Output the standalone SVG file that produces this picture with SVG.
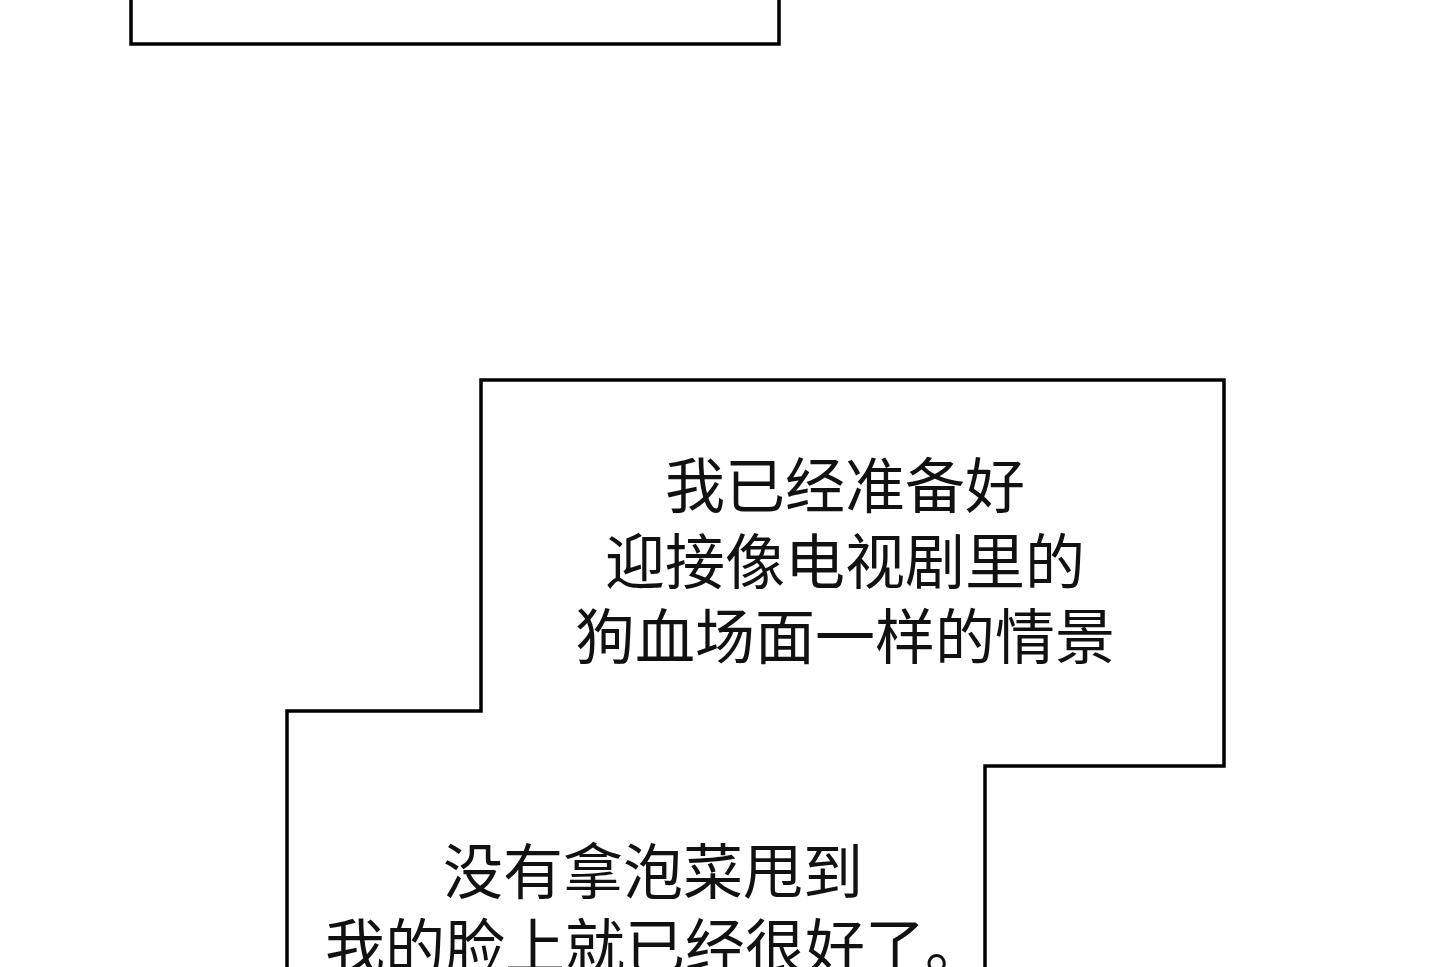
<svg xmlns="http://www.w3.org/2000/svg" width="1440" height="967" viewBox="0 0 1440 967">
<style>
.b{fill:#fff;stroke:#000;stroke-width:3.5;stroke-linejoin:miter}
.t{font-family:"Noto Sans CJK SC","Noto Sans",sans-serif;font-size:60px;fill:#111;text-anchor:middle}
</style>
<rect width="1440" height="967" fill="#fff"/>
<g id="panel1"><polyline class="b" points="131,-10 131,44 779,44 779,-10"/></g>
<g id="panel2">
<polyline class="b" points="287,980 287,711 481,711 481,380 1224,380 1224,766 985,766 985,980"/>
<text class="t" x="845" y="508">我已经准备好</text>
<text class="t" x="845" y="584">迎接像电视剧里的</text>
<text class="t" x="845" y="659">狗血场面一样的情景</text>
<text class="t" x="653" y="894">没有拿泡菜甩到</text>
<text class="t" x="655" y="969">我的脸上就已经很好了。</text>
</g>
</svg>
